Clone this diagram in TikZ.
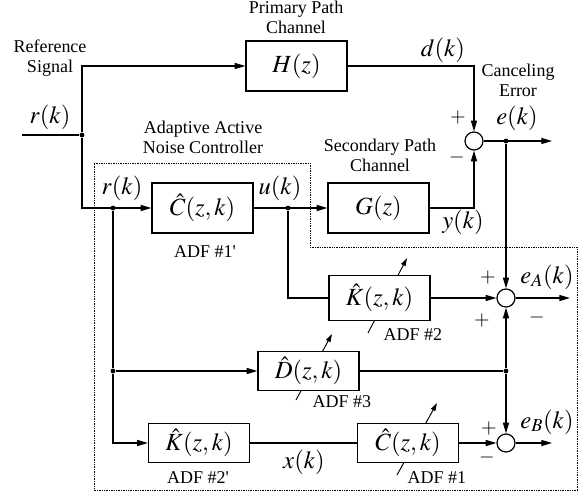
\documentclass[tikz,border=0pt]{standalone}
\usepackage{mathptmx}
\usepackage{fontspec}
\setmainfont{Liberation Serif}
\usetikzlibrary{arrows.meta}

\begin{document}
\begin{tikzpicture}[x=0.75pt,y=-0.75pt,
  font=\fontsize{13.5}{15}\selectfont,
  wire/.style={line width=0.9pt},
  arr/.style={wire,-{Triangle[length=8pt,width=4.5pt]}},
  adapt/.style={line width=0.7pt,-{Triangle[length=6pt,width=3.6pt]}},
  blk/.style={draw,line width=0.9pt,fill=white,inner sep=0pt,minimum width=75.75pt,
    font=\fontsize{18.5}{20}\selectfont},
  sumnode/.style={circle,draw,line width=0.9pt,fill=white,minimum size=13.5pt,inner sep=0pt},
  jdot/.style={circle,fill,inner sep=0pt,minimum size=3.6pt},
  lbl/.style={inner sep=0pt,align=center},
  mlbl/.style={inner sep=0pt,font=\fontsize{18.5}{20}\selectfont},
  sgn/.style={inner sep=0pt,font=\fontsize{15}{17}\selectfont}
]
\useasboundingbox (0,0) rectangle (587,494);

% controller boundary
\draw[line width=0.5pt,dash pattern=on 1pt off 0.8pt]
  (94,163) -- (310,163) -- (310,247) -- (577,247) -- (577,490) -- (94,490) -- cycle;

% adaptation arrows (behind the filter blocks)
\draw[adapt] (368,333) -- (407,258);
\draw[adapt] (296,400) -- (332,334);
\draw[adapt] (397,475) -- (437,403);

% blocks
\node[blk,minimum height=37.5pt] (H)   at (296.5,66)  {$H(z)$};
\node[blk,minimum height=37.5pt] (C1p) at (202.5,208) {$\hat{C}(z,k)$};
\node[blk,minimum height=37.5pt] (G)   at (378.5,208) {$G(z)$};
\node[blk,minimum height=33.75pt] (K2) at (379.5,298) {$\hat{K}(z,k)$};
\node[blk,minimum height=29.25pt] (D3) at (308.5,371) {$\hat{D}(z,k)$};
\node[blk,minimum height=29.25pt] (C1) at (408,443)   {$\hat{C}(z,k)$};
\node[blk,minimum height=29.25pt] (K2p) at (199,443)  {$\hat{K}(z,k)$};

% summing junctions
\node[sumnode] (s0) at (474,141) {};
\node[sumnode] (sA) at (506,298) {};
\node[sumnode] (sB) at (506,443) {};

% branch points and free ends
\coordinate (rin) at (22,135);
\node[jdot] (j1) at (82,135) {};
\node[jdot] (j2) at (113,208) {};
\node[jdot] (j3) at (113,371) {};
\node[jdot] (ju) at (288,208) {};
\node[jdot] (je) at (506,141) {};
\node[jdot] (jd) at (506,371) {};
\coordinate (oe) at (552,141);
\coordinate (oA) at (570,298);
\coordinate (oB) at (552,443);

% connectors
\draw[wire] (rin) -- (j1);
\draw[arr] (j1) |- (H);
\draw[arr] (j1) |- (C1p);
\draw[wire] (j2) -- (j3);
\draw[arr] (j3) -- (D3);
\draw[arr] (j3) |- (K2p);
\draw[arr] (C1p) -- (G);
\draw[wire] (ju) |- (K2);
\draw[arr] (H) -| (s0);
\draw[arr] (G) -| (s0);
\draw[arr] (s0) -- (oe);
\draw[arr] (je) -- (sA);
\draw[arr] (K2) -- (sA);
\draw[wire] (D3) -- (jd);
\draw[arr] (jd) -- (sA);
\draw[arr] (jd) -- (sB);
\draw[wire] (K2p) -- (C1);
\draw[arr] (C1) -- (sB);
\draw[arr] (sA) -- (oA);
\draw[arr] (sB) -- (oB);

% text labels
\node[lbl] at (296,17)  {Primary Path\\Channel};
\node[lbl] at (50,58)   {Reference\\Signal};
\node[lbl] at (203,137) {Adaptive Active\\Noise Controller};
\node[lbl] at (380,155) {Secondary Path\\Channel};
\node[lbl] at (518,80)  {Canceling\\Error};
\node[lbl] at (205,252) {ADF \#1\textquotesingle};
\node[lbl] at (413,335) {ADF \#2};
\node[lbl] at (342,402) {ADF \#3};
\node[lbl] at (437,478) {ADF \#1};
\node[lbl] at (198,478) {ADF \#2\textquotesingle};

% signal labels
\node[mlbl] at (50,117)  {$r(k)$};
\node[mlbl] at (122,188) {$r(k)$};
\node[mlbl] at (280,188) {$u(k)$};
\node[mlbl] at (443,50)  {$d(k)$};
\node[mlbl] at (517,118) {$e(k)$};
\node[mlbl] at (463,222) {$y(k)$};
\node[mlbl] at (304,462) {$x(k)$};
\node[mlbl] at (547,277) {$e_A(k)$};
\node[mlbl] at (547,422) {$e_B(k)$};

% signs at the summing junctions
\node[sgn] at (458,117) {$+$};
\node[sgn] at (457,157) {$-$};
\node[sgn] at (488,277) {$+$};
\node[sgn] at (482,320) {$+$};
\node[sgn] at (537,317) {$-$};
\node[sgn] at (489,428) {$+$};
\node[sgn] at (487,457) {$-$};
\end{tikzpicture}
\end{document}
